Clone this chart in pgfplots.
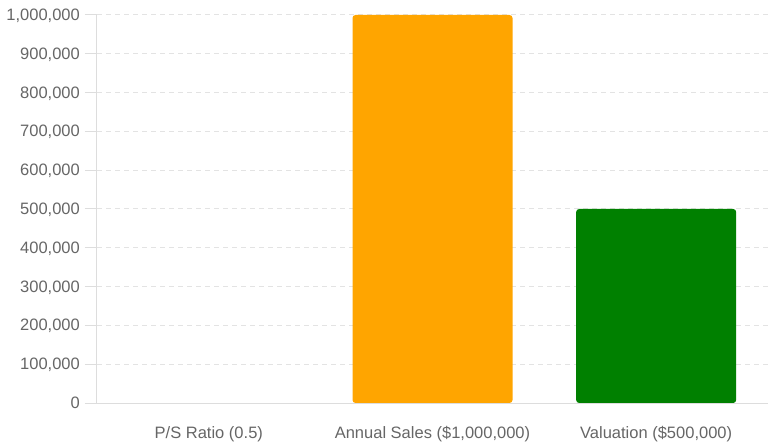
\documentclass[border=0pt]{standalone}
\usepackage{fontspec}
\setmainfont{Liberation Sans}
\usepackage{pgfplots}
\pgfplotsset{compat=1.18}
\definecolor{tickgray}{HTML}{666666}
\definecolor{axisgray}{HTML}{DDDDDD}
\definecolor{gridgray}{HTML}{E3E3E3}
\definecolor{barorange}{HTML}{FFA500}
\definecolor{bargreen}{HTML}{008000}
\definecolor{barblue}{HTML}{1F77B4}
\begin{document}
\begin{tikzpicture}
\begin{axis}[name=ax, scale only axis, width=671bp, height=388bp,
  xmin=-0.5, xmax=2.5, ymin=0, ymax=1000000,
  ybar, bar width=160bp, bar shift=0pt,
  axis lines*=left,
  axis line style={draw=axisgray, line width=1bp},
  xtick={0,1,2},
  xticklabels={{P/S Ratio (0.5)}, {Annual Sales (\$1,000,000)}, {Valuation (\$500,000)}},
  ytick={0,100000,200000,300000,400000,500000,600000,700000,800000,900000,1000000},
  scaled y ticks=false,
  /pgf/number format/.cd, fixed, 1000 sep={,}, assume math mode=true, /pgfplots/.cd,
  tick label style={font=\fontsize{16.5bp}{20bp}\selectfont, text=tickgray, inner sep=0pt},
  xtick style={draw=none},
  ytick style={draw=axisgray, line width=1bp},
  major tick length=12bp, tick align=outside,
  xticklabel style={anchor=base, yshift=-23bp},
  yticklabel style={anchor=base east, yshift=-5.5bp, xshift=-5bp},
  ymajorgrids,
  grid style={draw=gridgray, line width=1bp, dash pattern=on 5bp off 4bp},
  clip=true,
]
\addplot[fill=barblue, draw=none] coordinates {(0,0.5)};
\addplot[fill=barorange, draw=none, rounded corners=3bp] coordinates {(1,1000000)};
\addplot[fill=bargreen, draw=none, rounded corners=3bp] coordinates {(2,500000)};
\end{axis}
\pgfresetboundingbox
\path ([xshift=-97bp,yshift=-41bp]ax.south west) rectangle ([yshift=15bp]ax.north east);
\end{tikzpicture}
\end{document}
